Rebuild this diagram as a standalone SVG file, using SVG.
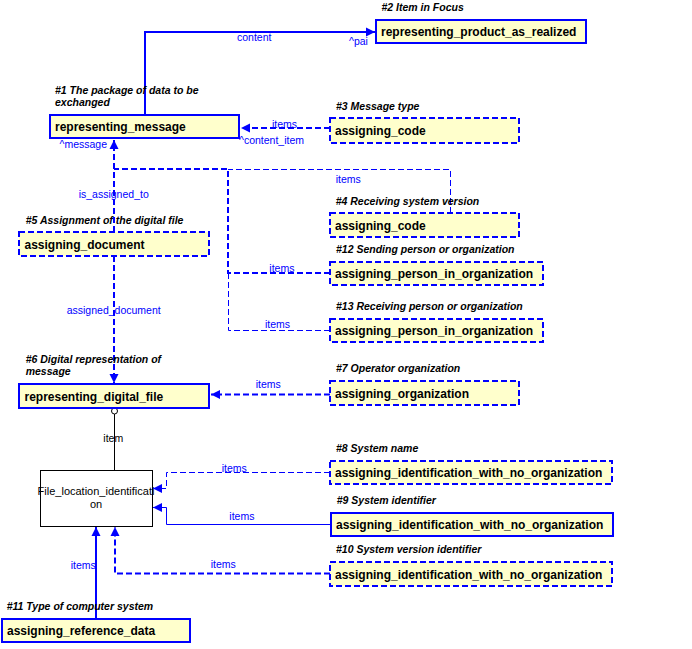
<svg xmlns="http://www.w3.org/2000/svg" width="692" height="649" viewBox="0 0 692 649">
<style>
.bg{fill:#ffffff}
.n{fill:#ffffcc;stroke:#0000ff;stroke-width:2}
.nd{fill:#ffffcc;stroke:#0000ff;stroke-width:2;stroke-dasharray:6 3}
.nt{font-family:"Liberation Sans",Arial,sans-serif;font-size:12px;font-weight:bold;fill:#000}
.lb{font-family:"Liberation Sans",Arial,sans-serif;font-size:10.5px;font-weight:bold;font-style:italic;fill:#000}
.cl{font-family:"Liberation Sans",Arial,sans-serif;font-size:10.5px;fill:#0000ff}
.ck{font-family:"Liberation Sans",Arial,sans-serif;font-size:10.5px;fill:#000}
.s2{fill:none;stroke:#0000ff;stroke-width:2}
.d2{fill:none;stroke:#0000ff;stroke-width:2;stroke-dasharray:6 3}
.s1{fill:none;stroke:#0000ff;stroke-width:1}
.d1{fill:none;stroke:#0000ff;stroke-width:1;stroke-dasharray:6 3}
</style>
<defs>
<marker id="arr" markerUnits="userSpaceOnUse" markerWidth="10" markerHeight="10" refX="9" refY="5" orient="auto">
<path d="M0,0.5 L9,5 L0,9.5 z" fill="#0000ff"/>
</marker>
</defs>
<rect class="bg" x="0" y="0" width="692" height="649"/>

<g id="connectors">
<path class="s2" d="M145,115 V32 H375" marker-end="url(#arr)"/>
<path class="d2" d="M330,128 H241" marker-end="url(#arr)"/>
<path class="d2" d="M114,232 V140" marker-end="url(#arr)"/>
<path class="d1" d="M450.5,213 V169.5 H228"/>
<path class="d1" d="M330,330.5 H228.5 V273"/>
<path class="d2" d="M330,273 H228 V169 H114"/>
<path class="d2" d="M114,256 V383" marker-end="url(#arr)"/>
<path class="d2" d="M330,394.5 H211" marker-end="url(#arr)"/>
<path fill="none" stroke="#000" stroke-width="1" d="M114.5,414 V470"/>
<circle cx="114.5" cy="411" r="3" fill="#fff" stroke="#000" stroke-width="1"/>
<path class="d1" d="M330,472.5 H166.5 V488.5 H153" marker-end="url(#arr)"/>
<path class="s1" d="M331,524.5 H166.5 V507.5 H153" marker-end="url(#arr)"/>
<path class="d2" d="M330,573.5 H115 V527" marker-end="url(#arr)"/>
<path class="s2" d="M96,619 V527" marker-end="url(#arr)"/>
<text class="cl" x="237" y="40.5">content</text>
<text class="cl" x="349" y="45">^pai</text>
<text class="cl" x="272" y="127.5">items</text>
<text class="cl" x="239" y="143.5">^content_item</text>
<text class="cl" x="59.5" y="147.5">^message</text>
<text class="cl" x="78.7" y="197.5">is_assigned_to</text>
<text class="cl" x="335.7" y="183">items</text>
<text class="cl" x="269.3" y="272">items</text>
<text class="cl" x="265" y="328">items</text>
<text class="cl" x="66.7" y="313.5">assigned_document</text>
<text class="cl" x="255.7" y="388">items</text>
<text class="ck" x="103.3" y="441.5">item</text>
<text class="cl" x="221.7" y="471.5">items</text>
<text class="cl" x="229.3" y="520">items</text>
<text class="cl" x="210.7" y="568">items</text>
<text class="cl" x="70.7" y="569">items</text>
</g>

<g id="n2">
<text class="lb" x="381.5" y="11">#2 Item in Focus</text>
<rect class="n" x="376" y="20" width="210" height="23"/>
<text class="nt" x="381" y="36">representing_product_as_realized</text>
</g>
<g id="n1">
<text class="lb" x="55" y="94">#1 The package of data to be</text>
<text class="lb" x="55" y="106">exchanged</text>
<rect class="n" x="50" y="115" width="189" height="23"/>
<text class="nt" x="55" y="131">representing_message</text>
</g>
<g id="n3">
<text class="lb" x="336" y="110">#3 Message type</text>
<rect class="nd" x="330" y="118" width="189" height="25"/>
<text class="nt" x="335" y="135">assigning_code</text>
</g>
<g id="n4">
<text class="lb" x="335.7" y="205">#4 Receiving system version</text>
<rect class="nd" x="330" y="213" width="189" height="24"/>
<text class="nt" x="335" y="229.5">assigning_code</text>
</g>
<g id="n12">
<text class="lb" x="336" y="253">#12 Sending person or organization</text>
<rect class="nd" x="330" y="262" width="213" height="23"/>
<text class="nt" x="335" y="278">assigning_person_in_organization</text>
</g>
<g id="n13">
<text class="lb" x="336" y="310">#13 Receiving person or organization</text>
<rect class="nd" x="330" y="319" width="213" height="23"/>
<text class="nt" x="335" y="335">assigning_person_in_organization</text>
</g>
<g id="n5">
<text class="lb" x="25.7" y="224">#5 Assignment of the digital file</text>
<rect class="nd" x="19" y="232" width="190" height="24"/>
<text class="nt" x="24.5" y="248.5">assigning_document</text>
</g>
<g id="n6">
<text class="lb" x="25.7" y="363">#6 Digital representation of</text>
<text class="lb" x="25.7" y="375">message</text>
<rect class="n" x="19" y="384" width="190" height="24"/>
<text class="nt" x="24.5" y="400.5">representing_digital_file</text>
</g>
<g id="n7">
<text class="lb" x="336" y="372">#7 Operator organization</text>
<rect class="nd" x="330" y="381" width="189" height="24"/>
<text class="nt" x="335" y="397.5">assigning_organization</text>
</g>
<g id="nfl">
<rect x="40.5" y="470.5" width="112" height="56" fill="#fff" stroke="#000" stroke-width="1"/>
<text class="ck" x="96" y="495" text-anchor="middle" style="font-size:11px">File_location_identificati</text>
<text class="ck" x="96" y="508" text-anchor="middle" style="font-size:11px">on</text>
</g>
<g id="n8">
<text class="lb" x="336" y="452">#8 System name</text>
<rect class="nd" x="330" y="461" width="282" height="23"/>
<text class="nt" x="335" y="477">assigning_identification_with_no_organization</text>
</g>
<g id="n9">
<text class="lb" x="336.7" y="504">#9 System identifier</text>
<rect class="n" x="331" y="513" width="282" height="23"/>
<text class="nt" x="336" y="529">assigning_identification_with_no_organization</text>
</g>
<g id="n10">
<text class="lb" x="336" y="553">#10 System version identifier</text>
<rect class="nd" x="330" y="562" width="282" height="24"/>
<text class="nt" x="335" y="578.5">assigning_identification_with_no_organization</text>
</g>
<g id="n11">
<text class="lb" x="6.7" y="610">#11 Type of computer system</text>
<rect class="n" x="2" y="619" width="188" height="23"/>
<text class="nt" x="7" y="635">assigning_reference_data</text>
</g>
</svg>
